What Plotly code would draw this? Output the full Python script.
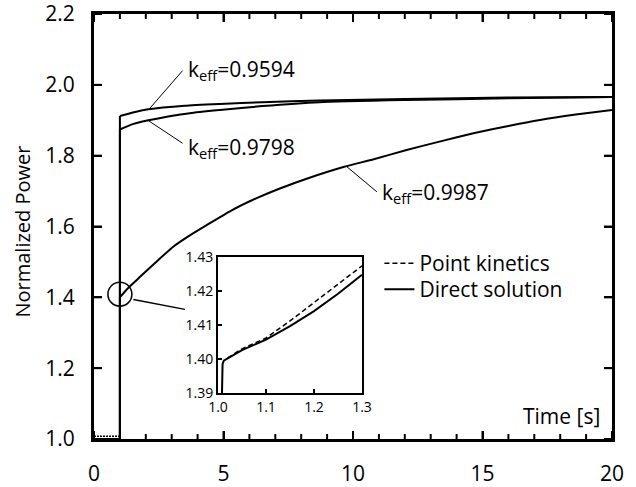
import plotly.graph_objects as go

# ---------------- data ----------------
t_9594 = [0, 1.0, 1.0, 1.5, 2.1, 3.5, 4.86, 6.5, 8.7, 12.0, 16.0, 20.0]
p_9594 = [1.0, 1.0, 1.912, 1.922, 1.931, 1.941, 1.946, 1.951, 1.956, 1.960, 1.964, 1.966]

t_9798 = [0, 1.0, 1.0, 1.5, 2.1, 3.7, 4.86, 6.5, 8.7, 12.0, 16.0, 20.0]
p_9798 = [1.0, 1.0, 1.874, 1.889, 1.900, 1.920, 1.929, 1.940, 1.951, 1.957, 1.962, 1.966]

t_9987 = [0, 1.0, 1.0, 1.3, 1.78, 2.4, 3.06, 3.7, 4.35, 5.3, 6.28, 7.2, 8.21,
          9.63, 10.8, 12.07, 13.3, 14.65, 16.0, 17.22, 18.6, 20.0]
p_9987 = [1.0, 1.0, 1.40, 1.425, 1.458, 1.50, 1.543, 1.575, 1.604, 1.645, 1.680, 1.708, 1.735,
          1.768, 1.790, 1.816, 1.839, 1.863, 1.884, 1.901, 1.916, 1.929]

# pre-step point-kinetics segment visible just above the axis
t_pk_pre = [0.0, 1.0]
p_pk_pre = [1.008, 1.008]

# inset: zoom near t = 1 s for keff = 0.9987
t_inset_direct = [1.0083, 1.0083, 1.0095, 1.012, 1.0188, 1.05, 1.10, 1.15, 1.20, 1.25, 1.30]
p_inset_direct = [1.39, 1.3962, 1.3985, 1.3995, 1.4001, 1.4026, 1.4057, 1.4097, 1.4141, 1.4192, 1.4248]

t_inset_pk = [1.02, 1.05, 1.10, 1.15, 1.20, 1.25, 1.30]
p_inset_pk = [1.4003, 1.4030, 1.4062, 1.4112, 1.4166, 1.4219, 1.4274]

x_ticks_main = [0, 5, 10, 15, 20]
x_minor_main = [1, 2, 3, 4, 6, 7, 8, 9, 11, 12, 13, 14, 16, 17, 18, 19]
y_ticks_main = [1.0, 1.2, 1.4, 1.6, 1.8, 2.0, 2.2]
x_ticks_inset = [1.0, 1.1, 1.2, 1.3]
y_ticks_inset = [1.39, 1.40, 1.41, 1.42, 1.43]

labels = ["k<sub>eff</sub>=0.9594", "k<sub>eff</sub>=0.9798", "k<sub>eff</sub>=0.9987"]

# ---------------- figure ----------------
FONT = "Open Sans"
BLACK = "#000000"
W, H = 636, 487
M = dict(l=94, r=24, t=14, b=48)
X_RANGE, Y_RANGE = [0, 20], [1.0, 2.2]
X2_RANGE, Y2_RANGE = [1.0, 1.3], [1.39, 1.43]
X2_DOM, Y2_DOM = [0.2394, 0.5174], [0.1082, 0.4282]

fig = go.Figure()

STEP = 3  # first three points form the step at t = 1 s
for t, p in [(t_9594, p_9594), (t_9798, p_9798), (t_9987, p_9987)]:
    fig.add_trace(go.Scatter(x=t[:STEP], y=p[:STEP], mode="lines",
                             line=dict(color=BLACK, width=2),
                             showlegend=False, xaxis="x", yaxis="y", hoverinfo="skip"))
    fig.add_trace(go.Scatter(x=t[STEP - 1:], y=p[STEP - 1:], mode="lines",
                             line=dict(color=BLACK, width=2, shape="spline", smoothing=0.5),
                             showlegend=False, xaxis="x", yaxis="y", hoverinfo="skip"))
fig.add_trace(go.Scatter(x=t_pk_pre, y=p_pk_pre, mode="lines",
                         line=dict(color=BLACK, width=1.5, dash="2px,1px"),
                         showlegend=False, xaxis="x", yaxis="y", hoverinfo="skip"))

fig.add_trace(go.Scatter(x=t_inset_pk, y=p_inset_pk, mode="lines", name="Point kinetics",
                         line=dict(color=BLACK, width=1.5, dash="5px,3px"),
                         xaxis="x2", yaxis="y2", legend="legend"))
fig.add_trace(go.Scatter(x=t_inset_direct, y=p_inset_direct, mode="lines", name="Direct solution",
                         line=dict(color=BLACK, width=2),
                         xaxis="x2", yaxis="y2", legend="legend2"))

main_font = dict(family=FONT, size=21, color=BLACK)
inset_font = dict(family=FONT, size=14, color=BLACK)
legend_style = dict(xanchor="left", yanchor="top", bgcolor="rgba(0,0,0,0)",
                    font=dict(family=FONT, size=21, color=BLACK), itemwidth=30)

fig.update_layout(
    width=W, height=H,
    margin=dict(**M, autoexpand=False),
    paper_bgcolor="white", plot_bgcolor="white",
    font=main_font,
    xaxis=dict(range=X_RANGE, tickmode="array", tickvals=x_ticks_main,
               ticks="inside", ticklen=8, tickwidth=2,
               tickcolor=BLACK, showline=True, linewidth=3, linecolor=BLACK, mirror="ticks",
               showgrid=False, zeroline=False, ticklabelstandoff=14,
               ticklabeloverflow="allow", automargin=False,
               tickfont=main_font, domain=[0, 1]),
    yaxis=dict(range=Y_RANGE, tickmode="array", tickvals=y_ticks_main, tickformat=".1f",
               ticks="inside", ticklen=8, tickwidth=2, tickcolor=BLACK, showline=True,
               linewidth=3, linecolor=BLACK, mirror="ticks", showgrid=False, zeroline=False,
               ticklabelstandoff=12, ticklabeloverflow="allow", automargin=False,
               tickfont=main_font, domain=[0, 1]),
    xaxis2=dict(range=X2_RANGE, tickmode="array", tickvals=x_ticks_inset, tickformat=".1f",
                ticks="inside", ticklen=4, tickwidth=1.5, tickcolor=BLACK, showline=True,
                linewidth=2, linecolor=BLACK, mirror=True, showgrid=False, zeroline=False,
                anchor="y2", domain=X2_DOM, ticklabeloverflow="allow",
                automargin=False, tickfont=inset_font),
    yaxis2=dict(range=Y2_RANGE, tickmode="array", tickvals=y_ticks_inset, tickformat=".2f",
                ticks="inside", ticklen=4, tickwidth=1.5, tickcolor=BLACK, showline=True,
                linewidth=2, linecolor=BLACK, mirror=True, showgrid=False, zeroline=False,
                anchor="x2", domain=Y2_DOM, ticklabeloverflow="allow",
                automargin=False, tickfont=inset_font),
    legend=dict(x=0.551, y=0.461, **legend_style),
    legend2=dict(x=0.551, y=0.400, **legend_style),
    showlegend=True,
)

# tick marks as line shapes on the axes' own scales (length converted from px)
PW = W - M["l"] - M["r"]
PH = H - M["t"] - M["b"]


def units_per_px(rng, dom, size):
    return (rng[1] - rng[0]) / ((dom[1] - dom[0]) * size)


ux = units_per_px(X_RANGE, [0, 1], PW)
uy = units_per_px(Y_RANGE, [0, 1], PH)
ux2 = units_per_px(X2_RANGE, X2_DOM, PW)
uy2 = units_per_px(Y2_RANGE, Y2_DOM, PH)


def seg(xref, yref, x0, y0, x1, y1, width):
    fig.add_shape(type="line", xref=xref, yref=yref, x0=x0, y0=y0, x1=x1, y1=y1,
                  line=dict(color=BLACK, width=width), layer="above")


for v in x_ticks_main:
    seg("x", "y", v, Y_RANGE[0], v, Y_RANGE[0] + 8 * uy, 2)
    seg("x", "y", v, Y_RANGE[1], v, Y_RANGE[1] - 8 * uy, 2)
for v in x_minor_main:
    seg("x", "y", v, Y_RANGE[0], v, Y_RANGE[0] + 5 * uy, 2)
    seg("x", "y", v, Y_RANGE[1], v, Y_RANGE[1] - 5 * uy, 2)
for v in y_ticks_main:
    seg("x", "y", X_RANGE[0], v, X_RANGE[0] + 8 * ux, v, 2)
    seg("x", "y", X_RANGE[1], v, X_RANGE[1] - 8 * ux, v, 2)
for v in x_ticks_inset[1:-1]:
    seg("x2", "y2", v, Y2_RANGE[0], v, Y2_RANGE[0] + 4 * uy2, 1.5)
for v in y_ticks_inset[1:-1]:
    seg("x2", "y2", X2_RANGE[0], v, X2_RANGE[0] + 4 * ux2, v, 1.5)

# leader lines for labels (main data coordinates)
leaders = [((2.10, 1.929), (3.42, 2.040)),
           ((2.10, 1.899), (3.42, 1.835)),
           ((9.76, 1.769), (10.92, 1.698))]
label_pos = [(3.55, 2.041), (3.55, 1.822), (11.05, 1.695)]
for (a, b), txt, (lx, ly) in zip(leaders, labels, label_pos):
    fig.add_shape(type="line", xref="x", yref="y", x0=a[0], y0=a[1], x1=b[0], y1=b[1],
                  line=dict(color=BLACK, width=1))
    fig.add_annotation(x=lx, y=ly, xref="x", yref="y", text=txt, showarrow=False,
                       xanchor="left", yanchor="middle", font=main_font)

# circle marking inset region and its connector
fig.add_shape(type="circle", xref="x", yref="y", xsizemode="pixel", ysizemode="pixel",
              xanchor=1.0, yanchor=1.409, x0=-12, x1=12, y0=-12, y1=12,
              fillcolor="rgba(0,0,0,0)", line=dict(color=BLACK, width=1.5))
fig.add_shape(type="line", xref="x", yref="y", x0=1.52, y0=1.394, x1=3.51, y1=1.366,
              line=dict(color=BLACK, width=1.5))

fig.add_annotation(x=0.981, y=0.054, xref="paper", yref="paper", text="Time [s]",
                   showarrow=False, xanchor="right", yanchor="middle", font=main_font)
fig.add_annotation(x=-0.138, y=0.487, xref="paper", yref="paper", text="Normalized Power",
                   showarrow=False, textangle=-90, xanchor="center", yanchor="middle",
                   font=dict(family=FONT, size=20, color=BLACK))

fig.write_html("out.html", config={"displayModeBar": False},
               post_script="document.body.style.margin='0';")
